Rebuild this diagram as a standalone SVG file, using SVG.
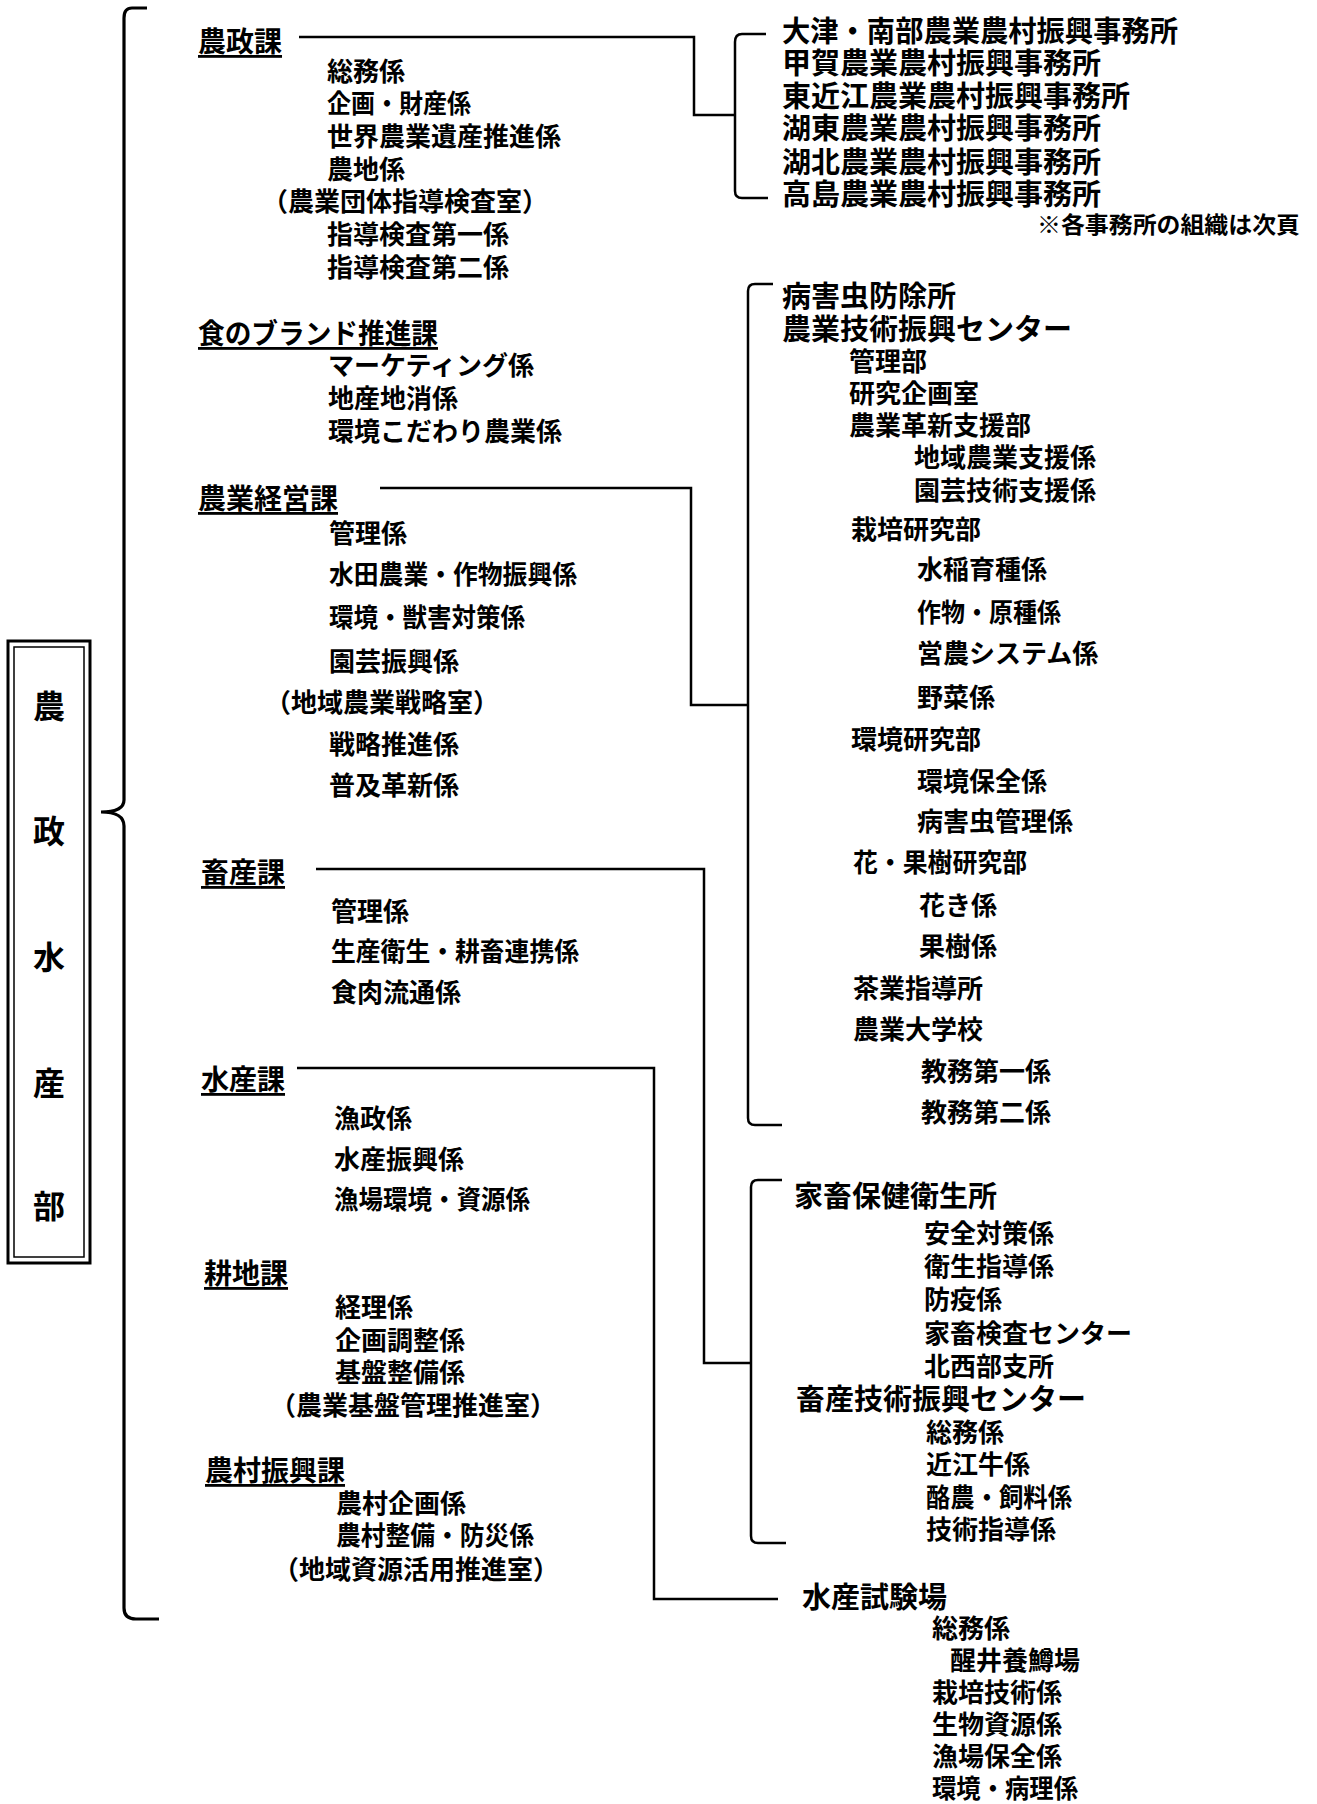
<svg xmlns="http://www.w3.org/2000/svg" width="1317" height="1804" viewBox="0 0 1317 1804">
<style>
text{font-family:"Noto Sans CJK JP","Noto Sans CJK SC",sans-serif;font-weight:700;fill:#000;dominant-baseline:central}
.h{font-size:28px;text-decoration:underline}
.i{font-size:26px}
.o{font-size:29px}
.n{font-size:23px}
.v{font-size:32px;text-anchor:middle}
.c{fill:none;stroke:#000;stroke-width:2.5}
.b{fill:none;stroke:#000;stroke-width:3.2}
</style>
<rect width="1317" height="1804" fill="#fff"/>
<g id="connectors">
<path class="b" d="M147,8 H132 Q124,8 124,18 V800 Q124,812 101,812 Q124,812 124,826 V1608 Q124,1619 136,1619 H159"/>
<path class="c" d="M299,37 H694 V115 H735"/>
<path class="c" d="M766,34 H742 Q735,34 735,42 V191 Q735,198 742,198 H768"/>
<path class="c" d="M380,488 H691 V705 H748"/>
<path class="c" d="M773,284 H755 Q748,284 748,291 V1118 Q748,1125 755,1125 H782"/>
<path class="c" d="M316,869 H704 V1363 H751"/>
<path class="c" d="M782,1180 H758 Q751,1180 751,1187 V1536 Q751,1543 758,1543 H786"/>
<path class="c" d="M297,1068 H654 V1599 H778"/>
</g>
<g id="dept">
<rect x="8" y="641" width="82" height="622" fill="none" stroke="#000" stroke-width="3"/>
<rect x="14" y="647" width="70" height="610" fill="none" stroke="#000" stroke-width="1.5"/>
<text class="v" x="49" y="704">農</text>
<text class="v" x="49" y="829">政</text>
<text class="v" x="49" y="955">水</text>
<text class="v" x="49" y="1081">産</text>
<text class="v" x="49" y="1204">部</text>
</g>
<g id="nouseika">
<text class="h" x="198" y="40">農政課</text>
<text class="i" x="327" y="69">総務係</text>
<text class="i" x="327" y="101" textLength="144" lengthAdjust="spacingAndGlyphs">企画・財産係</text>
<text class="i" x="327" y="134">世界農業遺産推進係</text>
<text class="i" x="327" y="167">農地係</text>
<text class="i" x="262" y="199">（農業団体指導検査室）</text>
<text class="i" x="327" y="232">指導検査第一係</text>
<text class="i" x="327" y="265">指導検査第二係</text>
</g>
<g id="brand">
<text class="h" x="198" y="332" textLength="240" lengthAdjust="spacingAndGlyphs">食のブランド推進課</text>
<text class="i" x="328" y="363">マーケティング係</text>
<text class="i" x="328" y="396">地産地消係</text>
<text class="i" x="328" y="429">環境こだわり農業係</text>
</g>
<g id="keiei">
<text class="h" x="198" y="497">農業経営課</text>
<text class="i" x="329" y="531">管理係</text>
<text class="i" x="329" y="572" textLength="248" lengthAdjust="spacingAndGlyphs">水田農業・作物振興係</text>
<text class="i" x="329" y="615" textLength="196" lengthAdjust="spacingAndGlyphs">環境・獣害対策係</text>
<text class="i" x="329" y="659">園芸振興係</text>
<text class="i" x="265" y="700">（地域農業戦略室）</text>
<text class="i" x="329" y="742">戦略推進係</text>
<text class="i" x="329" y="783">普及革新係</text>
</g>
<g id="chikusan">
<text class="h" x="201" y="871">畜産課</text>
<text class="i" x="331" y="909">管理係</text>
<text class="i" x="331" y="949" textLength="248" lengthAdjust="spacingAndGlyphs">生産衛生・耕畜連携係</text>
<text class="i" x="331" y="990">食肉流通係</text>
</g>
<g id="suisan">
<text class="h" x="201" y="1078">水産課</text>
<text class="i" x="334" y="1116">漁政係</text>
<text class="i" x="334" y="1157">水産振興係</text>
<text class="i" x="334" y="1197" textLength="196" lengthAdjust="spacingAndGlyphs">漁場環境・資源係</text>
</g>
<g id="kouchi">
<text class="h" x="204" y="1272">耕地課</text>
<text class="i" x="335" y="1305">経理係</text>
<text class="i" x="335" y="1338">企画調整係</text>
<text class="i" x="335" y="1370">基盤整備係</text>
<text class="i" x="270" y="1403">（農業基盤管理推進室）</text>
</g>
<g id="sonshin">
<text class="h" x="205" y="1469">農村振興課</text>
<text class="i" x="336" y="1501">農村企画係</text>
<text class="i" x="336" y="1533" textLength="198" lengthAdjust="spacingAndGlyphs">農村整備・防災係</text>
<text class="i" x="273" y="1567">（地域資源活用推進室）</text>
</g>
<g id="offices">
<text class="o" x="782" y="29" textLength="396" lengthAdjust="spacingAndGlyphs">大津・南部農業農村振興事務所</text>
<text class="o" x="782" y="61">甲賀農業農村振興事務所</text>
<text class="o" x="782" y="94">東近江農業農村振興事務所</text>
<text class="o" x="782" y="126">湖東農業農村振興事務所</text>
<text class="o" x="782" y="160">湖北農業農村振興事務所</text>
<text class="o" x="782" y="192">高島農業農村振興事務所</text>
<text class="n" x="1037" y="223" textLength="263" lengthAdjust="spacingAndGlyphs">※各事務所の組織は次頁</text>
</g>
<g id="gijutsu">
<text class="o" x="782" y="294">病害虫防除所</text>
<text class="o" x="782" y="327">農業技術振興センター</text>
<text class="i" x="849" y="359">管理部</text>
<text class="i" x="849" y="391">研究企画室</text>
<text class="i" x="849" y="423">農業革新支援部</text>
<text class="i" x="914" y="455">地域農業支援係</text>
<text class="i" x="914" y="488">園芸技術支援係</text>
<text class="i" x="851" y="527">栽培研究部</text>
<text class="i" x="917" y="567">水稲育種係</text>
<text class="i" x="917" y="610" textLength="144" lengthAdjust="spacingAndGlyphs">作物・原種係</text>
<text class="i" x="917" y="651">営農システム係</text>
<text class="i" x="917" y="695">野菜係</text>
<text class="i" x="851" y="737">環境研究部</text>
<text class="i" x="917" y="779">環境保全係</text>
<text class="i" x="917" y="819">病害虫管理係</text>
<text class="i" x="853" y="860" textLength="174" lengthAdjust="spacingAndGlyphs">花・果樹研究部</text>
<text class="i" x="919" y="903">花き係</text>
<text class="i" x="919" y="944">果樹係</text>
<text class="i" x="853" y="986">茶業指導所</text>
<text class="i" x="853" y="1027">農業大学校</text>
<text class="i" x="921" y="1069">教務第一係</text>
<text class="i" x="921" y="1110">教務第二係</text>
</g>
<g id="kachiku">
<text class="o" x="794" y="1194">家畜保健衛生所</text>
<text class="i" x="924" y="1231">安全対策係</text>
<text class="i" x="924" y="1264">衛生指導係</text>
<text class="i" x="924" y="1297">防疫係</text>
<text class="i" x="924" y="1331">家畜検査センター</text>
<text class="i" x="924" y="1364">北西部支所</text>
<text class="o" x="796" y="1397">畜産技術振興センター</text>
<text class="i" x="926" y="1430">総務係</text>
<text class="i" x="926" y="1462">近江牛係</text>
<text class="i" x="926" y="1495" textLength="146" lengthAdjust="spacingAndGlyphs">酪農・飼料係</text>
<text class="i" x="926" y="1527">技術指導係</text>
</g>
<g id="suishi">
<text class="o" x="802" y="1595">水産試験場</text>
<text class="i" x="932" y="1626">総務係</text>
<text class="i" x="950" y="1658">醒井養鱒場</text>
<text class="i" x="932" y="1690">栽培技術係</text>
<text class="i" x="932" y="1722">生物資源係</text>
<text class="i" x="932" y="1754">漁場保全係</text>
<text class="i" x="932" y="1786" textLength="146" lengthAdjust="spacingAndGlyphs">環境・病理係</text>
</g>
</svg>
